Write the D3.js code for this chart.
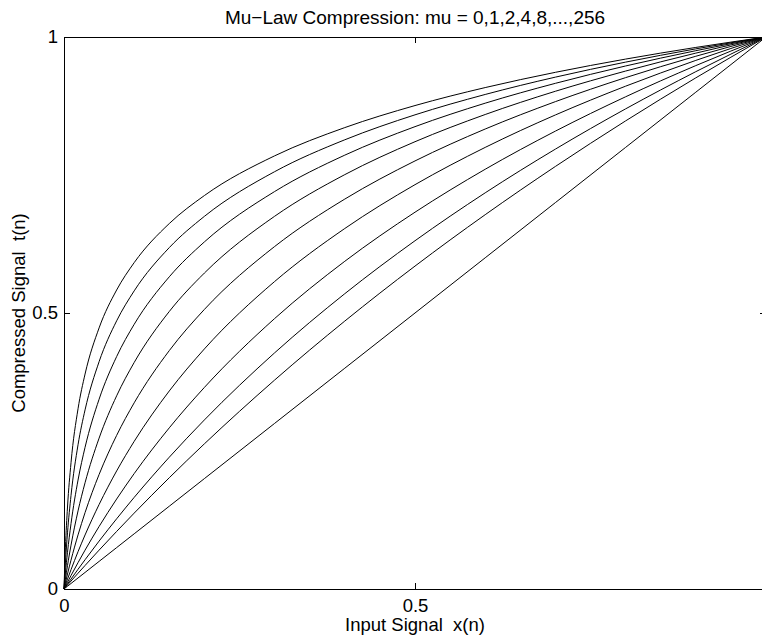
<!DOCTYPE html>
<html>
<head>
<meta charset="utf-8">
<script src="https://cdn.jsdelivr.net/npm/d3@7"></script>
<style>
  html, body { margin: 0; padding: 0; background: #fff; }
  svg text { font-family: "Liberation Sans", Arial, Helvetica, sans-serif; fill: #000; white-space: pre; }
</style>
</head>
<body>
<svg id="chart" width="762" height="638"></svg>
<script>
"use strict";

// mu values, one curve each (the mu = 0 curve is the straight diagonal)
var mu_values = [0, 1, 2, 4, 8, 16, 32, 64, 128, 256];

var x_samples = [0, 0.002, 0.005, 0.01, 0.02, 0.03, 0.05, 0.075, 0.1, 0.15,
                 0.2, 0.3, 0.4, 0.5, 0.6, 0.7, 0.8, 0.9, 1];

// compressed signal values, one row per mu
var y_mu0   = [0, 0.002, 0.005, 0.01, 0.02, 0.03, 0.05, 0.075, 0.1, 0.15,
               0.2, 0.3, 0.4, 0.5, 0.6, 0.7, 0.8, 0.9, 1];
var y_mu1   = [0, 0.0029, 0.0072, 0.0144, 0.0286, 0.0426, 0.0704, 0.1043, 0.1375, 0.2016,
               0.2630, 0.3785, 0.4854, 0.5850, 0.6781, 0.7655, 0.8480, 0.9260, 1];
var y_mu2   = [0, 0.0036, 0.0091, 0.0180, 0.0357, 0.0530, 0.0868, 0.1272, 0.1660, 0.2388,
               0.3063, 0.4278, 0.5350, 0.6309, 0.7177, 0.7969, 0.8698, 0.9372, 1];
var y_mu4   = [0, 0.0050, 0.0123, 0.0244, 0.0478, 0.0704, 0.1133, 0.1630, 0.2091, 0.2920,
               0.3652, 0.4899, 0.5937, 0.6826, 0.7604, 0.8295, 0.8917, 0.9482, 1];
var y_mu8   = [0, 0.0072, 0.0179, 0.0350, 0.0676, 0.0979, 0.1531, 0.2139, 0.2675, 0.3588,
               0.4349, 0.5570, 0.6531, 0.7325, 0.8000, 0.8588, 0.9109, 0.9576, 1];
var y_mu16  = [0, 0.0111, 0.0272, 0.0524, 0.0980, 0.1384, 0.2075, 0.2783, 0.3373, 0.4319,
               0.5065, 0.6204, 0.7064, 0.7755, 0.8333, 0.8829, 0.9264, 0.9651, 1];
var y_mu32  = [0, 0.0177, 0.0425, 0.0794, 0.1415, 0.1925, 0.2733, 0.3500, 0.4104, 0.5028,
               0.5724, 0.6752, 0.7507, 0.8103, 0.8596, 0.9017, 0.9383, 0.9708, 1];
var y_mu64  = [0, 0.0289, 0.0665, 0.1185, 0.1974, 0.2567, 0.3438, 0.4211, 0.4795, 0.5656,
               0.6288, 0.7200, 0.7860, 0.8376, 0.8801, 0.9161, 0.9475, 0.9752, 1];
var y_mu128 = [0, 0.0469, 0.1018, 0.1696, 0.2613, 0.3245, 0.4118, 0.4858, 0.5401, 0.6185,
               0.6751, 0.7560, 0.8138, 0.8590, 0.8959, 0.9273, 0.9545, 0.9785, 1];
var y_mu256 = [0, 0.0745, 0.1485, 0.2288, 0.3265, 0.3894, 0.4730, 0.5417, 0.5913, 0.6621,
               0.7128, 0.7847, 0.8359, 0.8758, 0.9084, 0.9360, 0.9600, 0.9811, 1];

var curves = [y_mu0, y_mu1, y_mu2, y_mu4, y_mu8, y_mu16, y_mu32, y_mu64, y_mu128, y_mu256];

var x_ticks = [0, 0.5, 1];
var y_ticks = [0, 0.5, 1];
var x_tick_labels = ['0', '0.5', ''];
var y_tick_labels = ['0', '0.5', '1'];

var title = 'Mu\u2212Law Compression: mu = 0,1,2,4,8,...,256';
var x_label = 'Input Signal  x(n)';
var y_label = 'Compressed Signal  t(n)';

// plot box; the right edge sits just past the visible page
var box = { left: 64, right: 766, top: 37, bottom: 589 };
var tick_len = 6;
var font_size = 18.5;
var title_size = 19;

var svg = d3.select('#chart');

var x = d3.scaleLinear().domain([0, 1]).range([box.left, box.right]);
var y = d3.scaleLinear().domain([0, 1]).range([box.bottom, box.top]);

// curves
var line = d3.line()
  .x(function(d) { return x(d[0]); })
  .y(function(d) { return y(d[1]); })
  .curve(d3.curveMonotoneX);

curves.forEach(function(vals) {
  var pts = x_samples.map(function(xv, i) { return [xv, vals[i]]; });
  svg.append('path')
    .attr('d', line(pts))
    .attr('fill', 'none')
    .attr('stroke', '#000')
    .attr('stroke-width', 1);
});

// axes, ticks pointing inward like the original plot
svg.append('g')
  .attr('transform', 'translate(0,' + box.bottom + ')')
  .call(d3.axisBottom(x).tickValues(x_ticks).tickSizeInner(-tick_len).tickSizeOuter(0)
    .tickFormat(function(d, i) { return x_tick_labels[i]; }))
  .call(style_axis)
  .selectAll('text').attr('dy', null).attr('y', 23);

svg.append('g')
  .attr('transform', 'translate(0,' + box.top + ')')
  .call(d3.axisTop(x).tickValues(x_ticks).tickSizeInner(-tick_len).tickSizeOuter(0)
    .tickFormat(''))
  .call(style_axis);

svg.append('g')
  .attr('transform', 'translate(' + box.left + ',0)')
  .call(d3.axisLeft(y).tickValues(y_ticks).tickSizeInner(-tick_len).tickSizeOuter(0)
    .tickFormat(function(d, i) { return y_tick_labels[i]; }))
  .call(style_axis)
  .selectAll('text').attr('x', -6);

svg.append('g')
  .attr('transform', 'translate(' + box.right + ',0)')
  .call(d3.axisRight(y).tickValues(y_ticks).tickSizeInner(-tick_len).tickSizeOuter(0)
    .tickFormat(''))
  .call(style_axis);

function style_axis(g) {
  g.attr('font-family', null).attr('font-size', null);
  g.select('.domain').attr('stroke', '#000').attr('stroke-width', 1);
  g.selectAll('.tick line').attr('stroke', '#000').attr('stroke-width', 1);
  g.selectAll('.tick text').style('font-size', font_size + 'px');
}

// title and labels
var cx = (box.left + box.right) / 2;

svg.append('text')
  .attr('x', cx).attr('y', 24)
  .attr('text-anchor', 'middle')
  .style('font-size', title_size + 'px')
  .text(title);

svg.append('text')
  .attr('x', cx).attr('y', 631)
  .attr('text-anchor', 'middle')
  .style('font-size', font_size + 'px')
  .text(x_label);

svg.append('text')
  .attr('transform', 'translate(25,' + ((box.top + box.bottom) / 2) + ') rotate(-90)')
  .attr('text-anchor', 'middle')
  .style('font-size', font_size + 'px')
  .text(y_label);
</script>
</body>
</html>
